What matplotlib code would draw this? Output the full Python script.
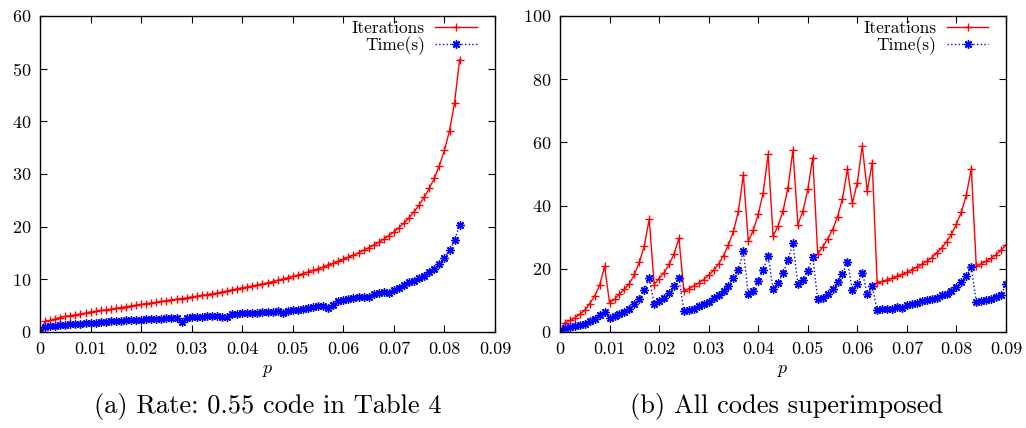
import numpy as np
import matplotlib
matplotlib.use("Agg")
import matplotlib.pyplot as plt
from matplotlib.ticker import FuncFormatter

plt.rcParams['font.family'] = 'serif'
plt.rcParams['font.serif'] = ['cmr10']
plt.rcParams['mathtext.fontset'] = 'cm'
plt.rcParams['axes.formatter.use_mathtext'] = True

# ---- data ----
# (a) single code, p = 0 .. 0.083 step 0.001
p_a = np.round(np.arange(0, 84) * 0.001, 3)
iter_a = [0, 2.0, 2.2, 2.5, 2.75, 2.95, 3.1, 3.25, 3.4, 3.6,
          3.8, 3.95, 4.1, 4.2, 4.35, 4.5, 4.65, 4.8, 4.95, 5.1,
          5.25, 5.4, 5.5, 5.65, 5.8, 5.95, 6.1, 6.25, 6.35, 6.5,
          6.65, 6.8, 6.95, 7.1, 7.25, 7.4, 7.6, 7.8, 8.0, 8.2,
          8.4, 8.55, 8.75, 8.95, 9.15, 9.35, 9.55, 9.8, 10.05, 10.3,
          10.55, 10.8, 11.1, 11.4, 11.7, 12.0, 12.35, 12.7, 13.05, 13.4,
          13.8, 14.2, 14.6, 15.05, 15.5, 16.0, 16.5, 17.05, 17.65, 18.3,
          19.0, 19.8, 20.7, 21.7, 22.85, 24.1, 25.6, 27.3, 29.2, 31.6,
          34.5, 38.2, 43.5, 51.7]
time_a = [0, 1.0, 1.1, 1.2, 1.35, 1.4, 1.5, 1.55, 1.6, 1.7,
          1.75, 1.8, 1.9, 1.95, 2.0, 2.05, 2.1, 2.2, 2.25, 2.3,
          2.35, 2.4, 2.45, 2.5, 2.55, 2.6, 2.7, 2.75, 1.9, 2.75,
          2.85, 2.85, 2.9, 2.95, 3.0, 3.1, 2.8, 2.8, 3.4, 3.45,
          3.55, 3.65, 3.65, 3.7, 3.75, 3.8, 3.75, 3.9, 3.7, 4.0,
          4.1, 4.2, 4.35, 4.5, 4.75, 4.95, 5.0, 4.6, 5.2, 5.8,
          6.15, 6.3, 6.5, 6.6, 6.65, 6.7, 7.2, 7.35, 7.6, 7.5,
          8.0, 8.4, 8.85, 9.4, 9.75, 10.3, 10.7, 11.4, 12.0, 13.0,
          14.1, 15.5, 17.4, 20.4]

# (b) all codes superimposed, p = 0 .. 0.090 step 0.001
p_b = np.round(np.arange(0, 91) * 0.001, 3)
iter_b = [0, 2.85, 3.7, 4.5, 5.6, 6.9, 9.0, 11.4, 14.8, 20.8,
          9.2, 10.4, 12.0, 13.5, 15.3, 18.2, 22.0, 27.2, 35.7, 15.0,
          16.9, 18.8, 21.4, 24.6, 29.7, 12.9, 13.7, 14.6, 15.5, 16.6,
          18.0, 19.5, 21.5, 24.2, 27.6, 31.9, 38.2, 49.8, 28.7, 32.2,
          37.2, 44.1, 56.2, 30.3, 33.6, 38.3, 45.6, 57.5, 34.0, 38.2,
          45.1, 55.2, 24.8, 26.9, 29.4, 32.4, 36.4, 42.2, 51.5, 40.7,
          47.3, 58.9, 44.6, 53.6, 15.5, 16.0, 16.5, 17.0, 17.6, 18.2,
          18.9, 19.7, 20.5, 21.4, 22.4, 23.5, 25.0, 26.6, 28.5, 31.0,
          34.2, 38.0, 43.4, 51.7, 20.9, 21.6, 22.4, 23.3, 24.5, 25.9,
          27.5]
time_b = [0, 1.3, 1.6, 1.9, 2.3, 2.6, 3.4, 4.2, 5.3, 6.3,
          4.5, 5.1, 5.6, 6.2, 7.4, 9.0, 10.6, 13.2, 17.2, 8.8,
          9.7, 10.9, 12.4, 14.5, 17.1, 6.7, 7.1, 7.4, 8.2, 8.8,
          9.4, 10.8, 11.6, 12.9, 14.6, 17.1, 19.5, 25.7, 11.9, 13.0,
          16.1, 19.7, 24.0, 13.7, 15.6, 18.7, 22.7, 28.2, 15.1, 16.6,
          19.3, 23.8, 10.3, 10.8, 12.1, 13.7, 15.8, 18.3, 22.0, 13.4,
          15.1, 18.8, 12.1, 14.5, 6.9, 7.3, 7.4, 7.4, 7.9, 7.7,
          8.4, 8.8, 9.3, 9.7, 10.0, 10.6, 10.9, 11.6, 12.1, 13.0,
          14.3, 15.8, 17.6, 20.6, 9.5, 9.8, 10.0, 10.6, 11.1, 11.6,
          15.1]

xticks = np.round(np.arange(0, 0.091, 0.01), 2)
yticks_a = [0, 10, 20, 30, 40, 50, 60]
yticks_b = [0, 20, 40, 60, 80, 100]

captions = ['(a) Rate: 0.55 code in Table 4', '(b) All codes superimposed']

fig = plt.figure(figsize=(10.26, 4.28), dpi=100)
ax1 = fig.add_axes([40 / 1026, 96 / 428, 455 / 1026, 316 / 428])
ax2 = fig.add_axes([560 / 1026, 96 / 428, 446 / 1026, 316 / 428])


def draw(ax, p, it, tm, yticks):
    ax.plot(p, it, color='#ff0000', lw=1.0, marker='+', ms=6, mew=1.0,
            label='Iterations')
    ax.plot(p, tm, color='#0000ff', lw=1.0, ls=':', marker=(8, 2, 0), ms=6,
            mew=1.0, label='Time(s)')
    ax.set_xlim(0, 0.09)
    ax.set_ylim(yticks[0], yticks[-1])
    ax.set_xticks(xticks)
    ax.set_yticks(yticks)
    ax.xaxis.set_major_formatter(FuncFormatter(lambda v, pos: '%g' % v))
    ax.tick_params(direction='in', length=5, width=0.8, top=True, right=True,
                   labelsize=13)
    ax.tick_params(axis='x', pad=7)
    ax.tick_params(axis='y', pad=6)
    for s in ax.spines.values():
        s.set_linewidth(1.0)
    ax.set_xlabel('$p$', fontsize=13, labelpad=4)
    leg = ax.legend(loc='upper right', frameon=False, markerfirst=False,
                    handlelength=2.4, handletextpad=0.6, labelspacing=0.0,
                    borderpad=0, borderaxespad=0, fontsize=12.5,
                    bbox_to_anchor=(1 - 18 / 455, 1 - 5 / 316))
    # right-justify the labels like gnuplot does
    for col in leg._legend_box.get_children()[1].get_children():
        col.align = 'right'


draw(ax1, p_a, iter_a, time_a, yticks_a)
draw(ax2, p_b, iter_b, time_b, yticks_b)

fig.text(268 / 1026, 1 - 406 / 428, captions[0], ha='center', va='center',
         fontsize=19)
fig.text(787 / 1026, 1 - 406 / 428, captions[1], ha='center', va='center',
         fontsize=19)

fig.savefig('out.png', dpi=100)
